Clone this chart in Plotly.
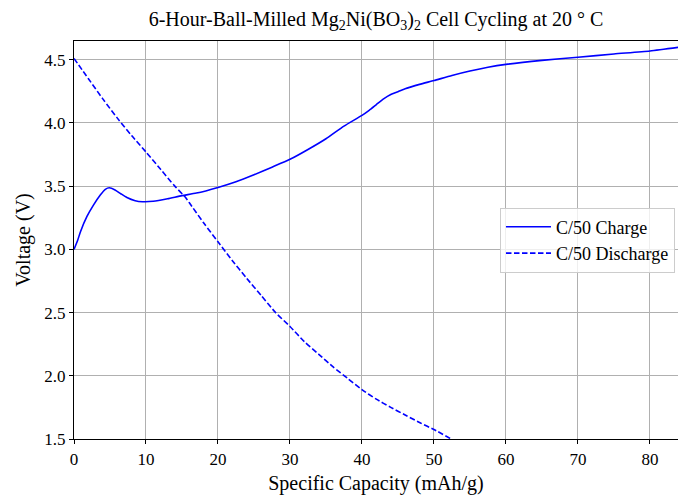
import plotly.graph_objects as go

# Charge curve (C/50)
charge_capacity = [0, 0.5, 0.9, 1.8, 2.7, 3.65, 4.35, 4.9, 5.7, 6.5, 7.35, 8.5, 9.5, 11, 13, 15,
                   17, 20, 22.5, 25, 27.5, 30, 32.5, 35, 37.5, 40, 41, 42, 43, 44, 45, 46, 48,
                   50, 52.5, 55, 57.5, 60, 65, 70, 75, 80, 84]
charge_voltage = [3.0, 3.07, 3.14, 3.26, 3.35, 3.43, 3.475, 3.487, 3.47, 3.44, 3.41, 3.385, 3.377,
                  3.38, 3.40, 3.425, 3.445, 3.49, 3.535, 3.59, 3.65, 3.712, 3.79, 3.875, 3.975,
                  4.06, 4.10, 4.145, 4.19, 4.225, 4.247, 4.27, 4.305, 4.335, 4.375, 4.41, 4.44,
                  4.463, 4.495, 4.519, 4.545, 4.569, 4.598]

# Discharge curve (C/50)
discharge_capacity = [0, 2, 4, 6, 8, 10, 12, 14, 15.5, 16, 18, 20, 22, 24, 26, 28, 30, 32, 34,
                      36, 38, 40, 42, 44, 46, 48, 50, 52.4]
discharge_voltage = [4.51, 4.35, 4.19, 4.04, 3.90, 3.77, 3.635, 3.50, 3.41, 3.37, 3.21, 3.06,
                     2.91, 2.77, 2.635, 2.50, 2.39, 2.27, 2.17, 2.07, 1.98, 1.89, 1.815, 1.75,
                     1.69, 1.63, 1.575, 1.50]

x_ticks = [0, 10, 20, 30, 40, 50, 60, 70, 80]
y_ticks = [1.5, 2.0, 2.5, 3.0, 3.5, 4.0, 4.5]

FONT = "Liberation Serif, Times New Roman, serif"

fig = go.Figure()
fig.add_trace(go.Scatter(
    x=charge_capacity, y=charge_voltage, mode="lines", name="C/50 Charge",
    line=dict(color="#0000ff", width=1.6, shape="spline", smoothing=0.6),
))
fig.add_trace(go.Scatter(
    x=discharge_capacity, y=discharge_voltage, mode="lines", name="C/50 Discharge",
    line=dict(color="#0000ff", width=1.6, dash="5.5px,2.5px", shape="spline", smoothing=0.6),
))

fig.update_layout(
    template="none",
    width=678, height=495,
    margin=dict(l=74, r=0, t=41, b=56),
    paper_bgcolor="white", plot_bgcolor="white",
    font=dict(family=FONT, size=16, color="black"),
    title=dict(
        text="6-Hour-Ball-Milled Mg<sub>2</sub>Ni(BO<sub>3</sub>)<sub>2</sub> Cell Cycling at 20 ° C",
        x=0.5, xref="paper", xanchor="center", y=0.962, yanchor="middle",
        font=dict(family=FONT, size=20, color="black"),
    ),
    legend=dict(
        x=0.995, y=0.5, xanchor="right", yanchor="middle",
        bgcolor="rgba(255,255,255,0.8)", bordercolor="#cccccc", borderwidth=1,
        font=dict(family=FONT, size=18, color="black"),
        itemwidth=45,
    ),
    showlegend=True,
)

fig.update_xaxes(
    range=[0, 83.9], tickmode="array", tickvals=x_ticks, ticktext=[str(v) for v in x_ticks],
    showgrid=True, gridcolor="#b0b0b0", gridwidth=1,
    showline=True, linecolor="black", linewidth=1.2, mirror=True,
    ticks="outside", ticklen=4, tickcolor="black", tickwidth=1,
    zeroline=False,
    title=dict(text="Specific Capacity (mAh/g)", font=dict(family=FONT, size=20), standoff=10),
    tickfont=dict(family=FONT, size=17, color="black"),
)
fig.update_yaxes(
    range=[1.5, 4.648], tickmode="array", tickvals=y_ticks, ticktext=[f"{v:.1f}" for v in y_ticks],
    showgrid=True, gridcolor="#b0b0b0", gridwidth=1,
    showline=True, linecolor="black", linewidth=1.2, mirror=False,
    ticks="outside", ticklen=4, tickcolor="black", tickwidth=1,
    zeroline=False,
    title=dict(text="Voltage (V)", font=dict(family=FONT, size=20), standoff=8),
    tickfont=dict(family=FONT, size=17, color="black"),
)

fig.write_html("out.html")
